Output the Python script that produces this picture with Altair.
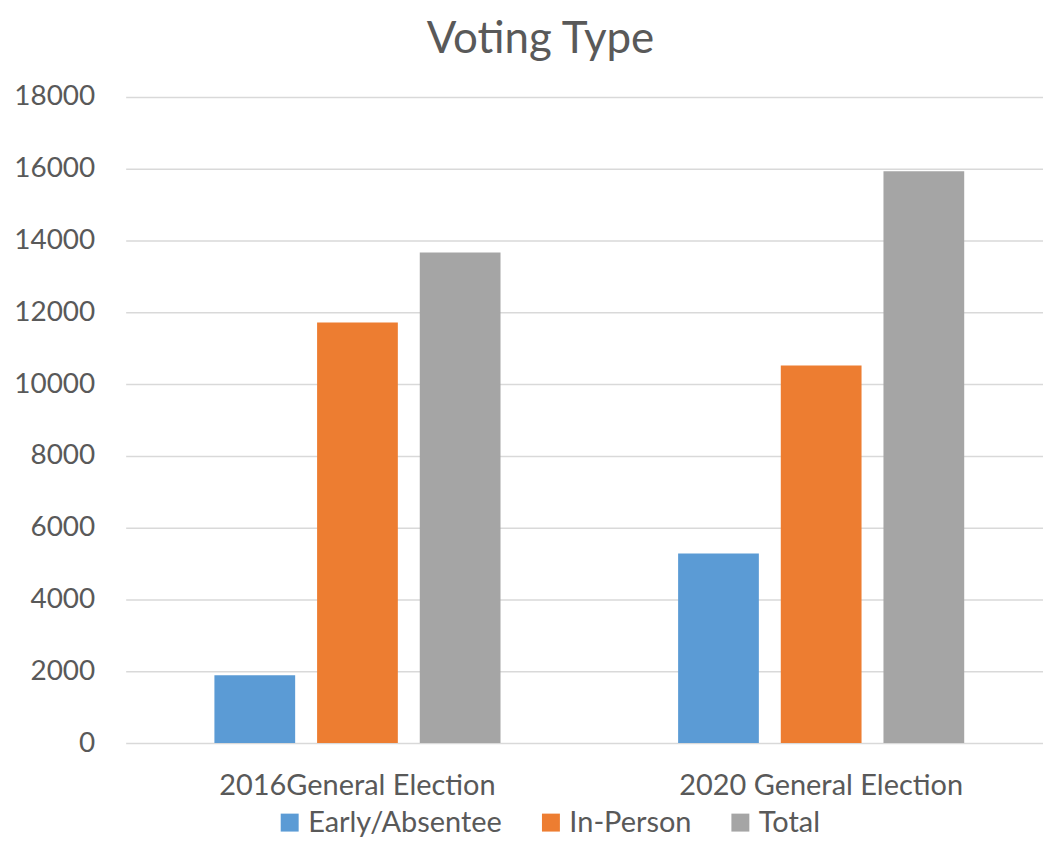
import altair as alt
import pandas as pd

elections = ["2016General Election", "2020 General Election"]
types = ["Early/Absentee", "In-Person", "Total"]
early = [1890, 5280]
in_person = [11720, 10520]
total = [13670, 15930]
colors = ["#5b9bd5", "#ed7d31", "#a5a5a5"]
y_ticks = [0, 2000, 4000, 6000, 8000, 10000, 12000, 14000, 16000, 18000]

rows = []
for i, e in enumerate(elections):
    for t, vals in zip(types, [early, in_person, total]):
        rows.append({"Election": e, "Type": t, "Votes": vals[i]})
df = pd.DataFrame(rows)

FONT = "Lato"
TXT = "#595959"

chart = alt.Chart(df).mark_bar().encode(
    x=alt.X(
        "Election:N", sort=elections,
        scale=alt.Scale(range=[0, 930], paddingInner=0.383, paddingOuter=0.1914),
        axis=alt.Axis(title=None, labelAngle=0, domain=False, ticks=False, tickSize=0,
                      labelPadding=52, labelBaseline="alphabetic", labelFontSize=29,
                      labelColor=TXT, labelFont=FONT, grid=False, labelLimit=0),
    ),
    xOffset=alt.XOffset("Type:N", sort=types, scale=alt.Scale(paddingInner=0.2136, paddingOuter=0)),
    y=alt.Y(
        "Votes:Q",
        scale=alt.Scale(domain=[0, 18000], nice=False),
        axis=alt.Axis(values=y_ticks, title=None, domain=False, ticks=False, tickSize=0,
                      labelPadding=31, labelFontSize=28, labelColor=TXT, labelFont=FONT,
                      gridColor="#d9d9d9", gridWidth=1.5, format="d"),
    ),
    color=alt.Color(
        "Type:N", sort=types,
        scale=alt.Scale(domain=types, range=colors),
        legend=alt.Legend(title=None, orient="none", direction="horizontal",
                          legendX=150, legendY=713, symbolType="square", symbolSize=324,
                          symbolStrokeWidth=0, labelFontSize=29, labelFont=FONT,
                          labelColor=TXT, labelOffset=4, columnPadding=34, padding=0,
                          symbolOpacity=1, labelLimit=0),
    ),
).properties(
    width=920,
    height=648,
    title=alt.TitleParams("Voting Type", fontSize=44, font=FONT, color=TXT,
                          fontWeight="normal", anchor="middle", dx=-44, offset=-14,
                          baseline="alphabetic"),
    autosize=alt.AutoSizeParams(type="none"),
    padding={"left": 118, "top": 88, "right": 0, "bottom": 99},
).configure_view(stroke=None)

chart.save("out.html", embed_options={"renderer": "svg", "actions": False})
